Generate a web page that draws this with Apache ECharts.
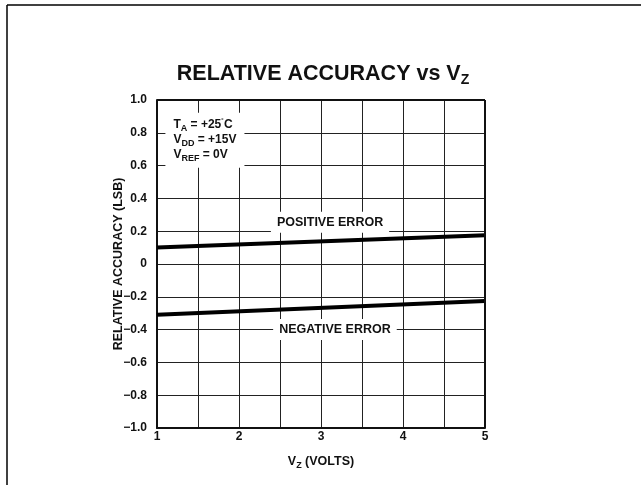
<!DOCTYPE html>
<html>
<head>
<meta charset="utf-8">
<script src="https://cdn.jsdelivr.net/npm/echarts@6/dist/echarts.min.js"></script>
<style>
  html, body { margin: 0; padding: 0; background: #fff; }
  #chart { width: 641px; height: 485px; }
</style>
</head>
<body>
<div id="chart"></div>
<script>
const vz = [1, 5]
const positiveError = [0.1, 0.175]
const negativeError = [-0.31, -0.225]
const xTicks = [1, 2, 3, 4, 5]

const FONT = '"Liberation Sans", Arial, sans-serif'
const INK = '#111'

const chart = echarts.init(document.getElementById('chart'))

function fmtY(v) {
  if (Math.abs(v) < 1e-9) return '0'
  const s = Math.abs(v).toFixed(1)
  return v < 0 ? '\u2212' + s : s
}

const option = {
  animation: false,
  backgroundColor: '#fff',
  title: {
    text: 'RELATIVE ACCURACY vs V{sub|Z}',
    left: 318,
    textAlign: 'center',
    top: 56,
    textStyle: {
      fontFamily: FONT, fontSize: 21.5, fontWeight: 'bold', color: INK,
      rich: { sub: { fontFamily: FONT, fontSize: 14, fontWeight: 'bold', color: INK, padding: [12, 0, 0, 0] } }
    }
  },
  grid: { left: 157, top: 100, width: 328, height: 328, containLabel: false },
  xAxis: {
    type: 'value', min: 1, max: 5, interval: 0.5,
    name: 'V{sub|Z} (VOLTS)', nameLocation: 'middle', nameGap: 26, nameMoveOverlap: false,
    nameTextStyle: {
      fontFamily: FONT, fontSize: 12.5, fontWeight: 'bold', color: INK,
      rich: { sub: { fontFamily: FONT, fontSize: 9, fontWeight: 'bold', color: INK, padding: [7, 0, 0, 0] } }
    },
    axisLine: { show: true, onZero: false, lineStyle: { color: INK, width: 2 } },
    axisTick: { show: false },
    axisLabel: {
      fontFamily: FONT, fontSize: 12, fontWeight: 'bold', color: INK, margin: 3,
      formatter: v => xTicks.includes(v) ? String(v) : ''
    },
    splitLine: { show: true, lineStyle: { color: '#222', width: 1 } }
  },
  yAxis: {
    type: 'value', min: -1, max: 1, interval: 0.2,
    name: 'RELATIVE ACCURACY (LSB)', nameLocation: 'middle', nameGap: 32, nameMoveOverlap: false,
    nameTextStyle: { fontFamily: FONT, fontSize: 12.5, fontWeight: 'bold', color: INK },
    axisLine: { show: true, onZero: false, lineStyle: { color: INK, width: 2 } },
    axisTick: { show: false },
    axisLabel: { fontFamily: FONT, fontSize: 12, fontWeight: 'bold', color: INK, margin: 10, formatter: fmtY },
    splitLine: { show: true, lineStyle: { color: '#222', width: 1 } }
  },
  series: [
    {
      name: 'POSITIVE ERROR', type: 'line', symbol: 'none',
      lineStyle: { color: '#000', width: 4 },
      data: vz.map((x, i) => [x, positiveError[i]])
    },
    {
      name: 'NEGATIVE ERROR', type: 'line', symbol: 'none',
      lineStyle: { color: '#000', width: 4 },
      data: vz.map((x, i) => [x, negativeError[i]])
    }
  ]
}

chart.setOption(option)

// labels anchored in data space
const posLbl = chart.convertToPixel({ gridIndex: 0 }, [3.11, 0.255])
const negLbl = chart.convertToPixel({ gridIndex: 0 }, [3.17, -0.40])
const noteAt = chart.convertToPixel({ gridIndex: 0 }, [1.2, 0.755])

const lblStyle = {
  fontFamily: FONT, fontSize: 12.5, fontWeight: 'bold', fill: INK,
  backgroundColor: '#fff', padding: [4, 6, 4, 6], align: 'center', verticalAlign: 'middle'
}
const subRich = {
  sub: { fontFamily: FONT, fontSize: 9, fontWeight: 'bold', fill: INK, padding: [6, 0, 0, 0] },
  sup: { fontFamily: FONT, fontSize: 8, fontWeight: 'bold', fill: INK, padding: [0, 0, 6, 0] }
}

chart.setOption({
  graphic: [
    { type: 'line', shape: { x1: 7, y1: 5, x2: 641, y2: 5 }, style: { stroke: '#000', lineWidth: 1.5 } },
    { type: 'line', shape: { x1: 7, y1: 5, x2: 7, y2: 485 }, style: { stroke: '#000', lineWidth: 1.5 } },
    { type: 'line', shape: { x1: 485, y1: 100, x2: 485, y2: 428 }, style: { stroke: INK, lineWidth: 2 }, z: 10 },
    { type: 'line', shape: { x1: 157, y1: 100, x2: 485, y2: 100 }, style: { stroke: INK, lineWidth: 2 }, z: 10 },
    { type: 'text', x: posLbl[0], y: posLbl[1], z: 20, style: Object.assign({ text: 'POSITIVE ERROR' }, lblStyle) },
    { type: 'text', x: negLbl[0], y: negLbl[1], z: 20, style: Object.assign({ text: 'NEGATIVE ERROR' }, lblStyle) },
    {
      type: 'text', x: noteAt[0] - 8, y: noteAt[1], z: 20,
      style: {
        text: 'T{sub|A} = +25{sup|˚}C\nV{sub|DD} = +15V\nV{sub|REF} = 0V',
        fontFamily: FONT, fontSize: 12, fontWeight: 'bold', fill: INK, lineHeight: 15,
        backgroundColor: '#fff', padding: [5, 8, 5, 8], align: 'left', verticalAlign: 'middle',
        rich: subRich
      }
    }
  ]
})
</script>
</body>
</html>
